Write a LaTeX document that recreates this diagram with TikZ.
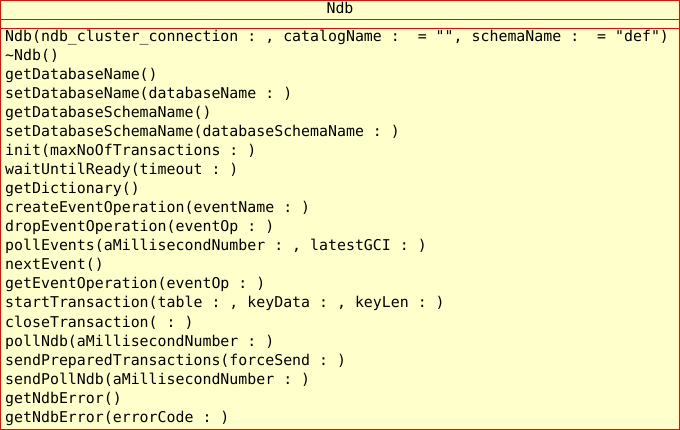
\documentclass[tikz,border=0pt]{standalone}
\usepackage{fontspec}
\newfontfamily\umlfont{DejaVu Sans Mono}
\definecolor{umlfill}{HTML}{FFFFCC}
\definecolor{umlred}{HTML}{FF0000}
\frenchspacing
\begin{document}
\begin{tikzpicture}[x=1pt,y=-1pt,
  op/.style={anchor=base west,inner sep=0pt,font=\umlfont\fontsize{14.9}{17}\selectfont\frenchspacing,text=black},
  ttl/.style={anchor=base,inner sep=0pt,font=\umlfont\fontsize{14.9}{17}\selectfont,text=black},
  border/.style={draw=umlred,line width=1.2pt}]
\useasboundingbox (0,0) rectangle (680,430);
\fill[umlfill] (0,0) rectangle (680,430);
\draw[border] (0.6,0.6) rectangle (679.4,429.4);
\draw[border] (0,19.5) -- (680,19.5);
\draw[border] (0,28.5) -- (680,28.5);
\node[ttl] (title) at (340,14) {Ndb};
\node[op] (m1) at (5,42) {Ndb(ndb\_cluster\_connection : , catalogName : \ = "", schemaName : \ = "def")};
\node[op] (m2) at (5,61) {\textasciitilde Ndb()};
\node[op] (m3) at (5,80) {getDatabaseName()};
\node[op] (m4) at (5,99) {setDatabaseName(databaseName : )};
\node[op] (m5) at (5,118) {getDatabaseSchemaName()};
\node[op] (m6) at (5,137) {setDatabaseSchemaName(databaseSchemaName : )};
\node[op] (m7) at (5,156) {init(maxNoOfTransactions : )};
\node[op] (m8) at (5,175) {waitUntilReady(timeout : )};
\node[op] (m9) at (5,194) {getDictionary()};
\node[op] (m10) at (5,213) {createEventOperation(eventName : )};
\node[op] (m11) at (5,232) {dropEventOperation(eventOp : )};
\node[op] (m12) at (5,251) {pollEvents(aMillisecondNumber : , latestGCI : )};
\node[op] (m13) at (5,270) {nextEvent()};
\node[op] (m14) at (5,289) {getEventOperation(eventOp : )};
\node[op] (m15) at (5,308) {startTransaction(table : , keyData : , keyLen : )};
\node[op] (m16) at (5,327) {closeTransaction( : )};
\node[op] (m17) at (5,346) {pollNdb(aMillisecondNumber : )};
\node[op] (m18) at (5,365) {sendPreparedTransactions(forceSend : )};
\node[op] (m19) at (5,384) {sendPollNdb(aMillisecondNumber : )};
\node[op] (m20) at (5,403) {getNdbError()};
\node[op] (m21) at (5,422) {getNdbError(errorCode : )};
\end{tikzpicture}
\end{document}
